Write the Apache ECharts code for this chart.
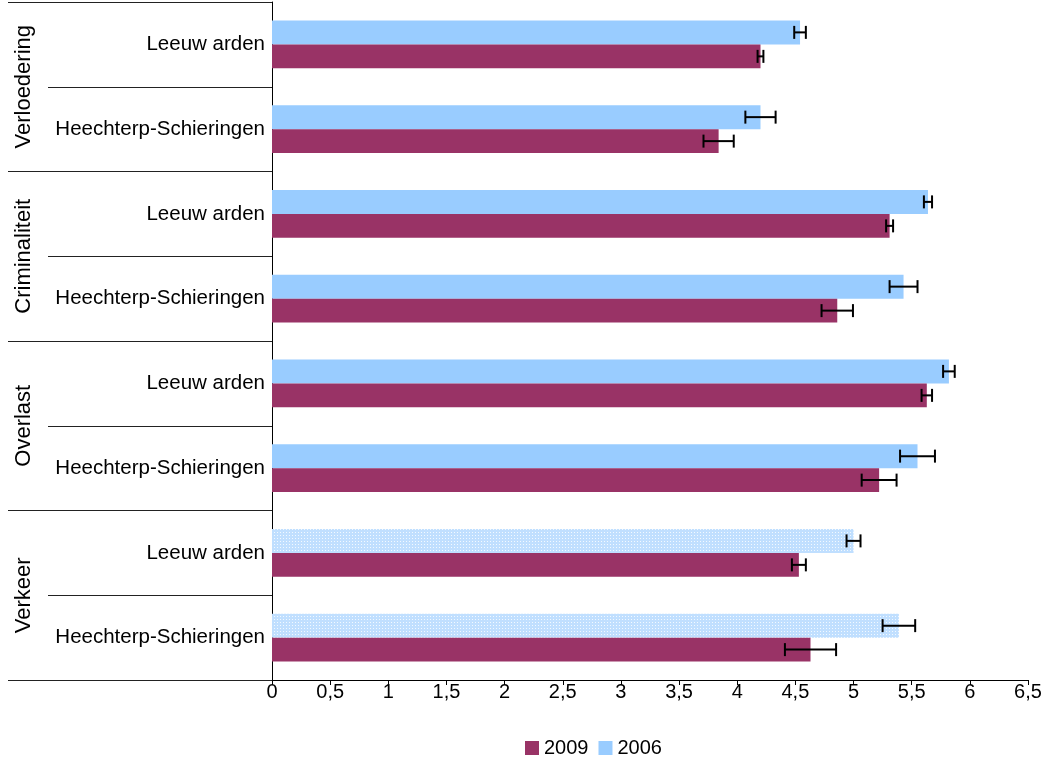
<!DOCTYPE html>
<html><head><meta charset="utf-8">
<script src="https://cdn.jsdelivr.net/npm/echarts@6/dist/echarts.min.js"></script>
<style>html,body{margin:0;padding:0;background:#fff}#c{width:1053px;height:757px}</style>
</head><body><div id="c"></div>
<script>
const categories = ['Leeuw arden','Heechterp-Schieringen','Leeuw arden','Heechterp-Schieringen','Leeuw arden','Heechterp-Schieringen','Leeuw arden','Heechterp-Schieringen'];
const groups = ['Verloedering','Criminaliteit','Overlast','Verkeer'];
const values2009 = [4.20, 3.84, 5.31, 4.86, 5.63, 5.22, 4.53, 4.63];
const values2006 = [4.54, 4.20, 5.64, 5.43, 5.82, 5.55, 5.00, 5.39];
const err2009 = [0.025, 0.13, 0.03, 0.135, 0.045, 0.15, 0.06, 0.22];
const err2006 = [0.05, 0.13, 0.035, 0.12, 0.05, 0.15, 0.06, 0.14];
const xTicks = ['0','0,5','1','1,5','2','2,5','3','3,5','4','4,5','5','5,5','6','6,5'];
const hatchedIdx = [6, 7];

const pc = document.createElement('canvas'); pc.width = 3; pc.height = 3;
const pctx = pc.getContext('2d');
pctx.fillStyle = '#c0dfff'; pctx.fillRect(0,0,3,3);
pctx.fillStyle = '#f2f9ff'; pctx.fillRect(1,1,1,1);
const hatch = {image: pc, repeat: 'repeat'};

const BARFRAC = 0.283;
function errRender(sign){
  return function(params, api){
    const yi = api.value(0), v = api.value(1), e = api.value(2);
    const c = api.coord([v, yi]);
    const band = api.size([0, 1])[1];
    const y = c[1] + sign * band * BARFRAC / 2;
    const x1 = api.coord([v - e, yi])[0], x2 = api.coord([v + e, yi])[0];
    const cap = 6.5;
    const st = {stroke: '#000', lineWidth: 2};
    return {type: 'group', children: [
      {type: 'line', shape: {x1: x1, y1: y, x2: x2, y2: y}, style: st},
      {type: 'line', shape: {x1: x1, y1: y - cap, x2: x1, y2: y + cap}, style: st},
      {type: 'line', shape: {x1: x2, y1: y - cap, x2: x2, y2: y + cap}, style: st}
    ]};
  };
}

const chart = echarts.init(document.getElementById('c'));
const font = 'Liberation Sans, Arial, sans-serif';
chart.setOption({
  animation: false,
  textStyle: {fontFamily: font},
  grid: {left: 272, right: 25, top: 2, bottom: 77, containLabel: false},
  legend: {data: ['2009','2006'], top: 733, left: 520, itemWidth: 14, itemHeight: 14, itemGap: 10,
    textStyle: {fontSize: 20, color: '#000', fontFamily: font}, icon: 'rect'},
  xAxis: {type: 'value', min: 0, max: 6.5, interval: 0.5,
    axisLine: {show: true, lineStyle: {color: '#000', width: 1}},
    axisTick: {show: true, length: 5, lineStyle: {color: '#000'}},
    splitLine: {show: false},
    axisLabel: {fontSize: 20, color: '#000', margin: 2, fontFamily: font,
      formatter: function(v){ return xTicks[Math.round(v * 2)]; }}},
  yAxis: [
    {type: 'category', data: categories, inverse: true,
      axisLine: {show: true, lineStyle: {color: '#000', width: 1}},
      axisTick: {show: true, length: 224, lineStyle: {color: '#222'}},
      axisLabel: {fontSize: 20.5, color: '#000', margin: 7, fontFamily: font}},
    {type: 'category', data: groups, inverse: true, position: 'left', offset: 0,
      axisLine: {show: false},
      axisTick: {show: true, length: 264, lineStyle: {color: '#222'}},
      axisLabel: {fontSize: 22, color: '#000', rotate: 90, margin: 237, fontFamily: font}}
  ],
  series: [
    {name: '2006', type: 'bar', yAxisIndex: 0, barWidth: (BARFRAC*100)+'%', barGap: '0%',
      itemStyle: {color: '#99ccff'},
      data: values2006.map(function(v, i){ return hatchedIdx.indexOf(i) >= 0 ? {value: v, itemStyle: {color: hatch}} : v; })},
    {name: '2009', type: 'bar', yAxisIndex: 0, barWidth: (BARFRAC*100)+'%', barGap: '0%',
      itemStyle: {color: '#993366'}, data: values2009},
    {type: 'custom', yAxisIndex: 0, renderItem: errRender(-1), encode: {x: 1, y: 0}, z: 5,
      data: values2006.map(function(v, i){ return [i, v, err2006[i]]; })},
    {type: 'custom', yAxisIndex: 0, renderItem: errRender(1), encode: {x: 1, y: 0}, z: 5,
      data: values2009.map(function(v, i){ return [i, v, err2009[i]]; })}
  ]
});
</script></body></html>
